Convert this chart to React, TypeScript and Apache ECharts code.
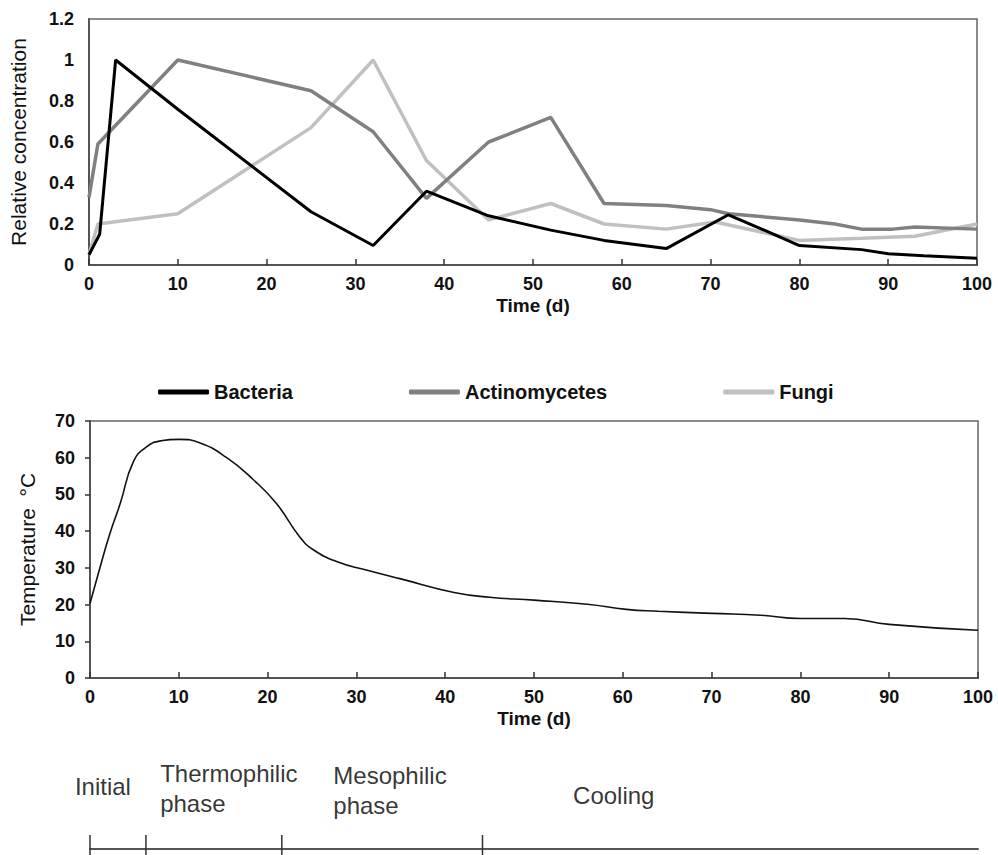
import React, { useEffect, useRef } from "react";
import * as echarts from "echarts";

// ---- Top chart: relative concentration ----
const bacteriaDays = [0, 1.2, 3, 10, 25, 32, 38, 45, 52, 58, 65, 72, 75.5, 80, 87, 90, 94, 100];
const bacteriaValues = [0.05, 0.15, 1.0, 0.76, 0.26, 0.095, 0.36, 0.24, 0.17, 0.12, 0.08, 0.245, 0.18, 0.095, 0.075, 0.055, 0.045, 0.033];

const actinoDays = [0, 1, 10, 25, 32, 38, 45, 52, 58, 65, 70, 72, 80, 84, 87, 90.5, 93, 100];
const actinoValues = [0.33, 0.59, 1.0, 0.85, 0.65, 0.325, 0.6, 0.72, 0.3, 0.29, 0.27, 0.25, 0.22, 0.2, 0.175, 0.175, 0.185, 0.175];

const fungiDays = [0, 1, 10, 25, 32, 38, 45, 52, 58, 65, 70.5, 80, 87, 93, 100];
const fungiValues = [0.05, 0.2, 0.25, 0.67, 1.0, 0.51, 0.22, 0.3, 0.2, 0.175, 0.21, 0.12, 0.13, 0.14, 0.2];

// ---- Bottom chart: temperature ----
const tempDays = [0, 1, 2.2, 3.4, 4.9, 6.4, 8, 10, 12.4, 15.4, 18.4, 21, 23.6, 25.1, 28, 31, 35, 41, 45, 50, 56, 60.4, 64, 70, 75.5, 80, 85, 90, 100];
const tempValues = [20.3, 29, 39, 47.5, 59, 63, 64.6, 65, 64, 60, 54, 47.5, 38.5, 35, 31.5, 29.5, 27, 23.3, 22, 21.2, 20.1, 18.7, 18.2, 17.6, 17.1, 16.2, 16.2, 14.6, 13];

// ---- Phase annotation ----
const phaseBoundaries = [0, 6.3, 21.6, 44.2];
const phaseNames = ["Initial", "Thermophilic\nphase", "Mesophilic\nphase", "Cooling"];
const phaseLabelDays = [-1.7, 7.9, 27.4, 54.4];
const phaseLabelLevels = [0.66, 0.64, 0.62, 0.57];

const FONT = "'Liberation Sans', Arial, sans-serif";

const zip = (xs: number[], ys: number[]) => xs.map((x, i) => [x, ys[i]]);

export default function App() {
  const ref = useRef<HTMLDivElement>(null);

  useEffect(() => {
    if (!ref.current) return;
    const chart = echarts.init(ref.current, null, { renderer: "svg" });

    const axisLineStyle = { color: "#555", width: 2 };
    const tickLabel = { color: "#111", fontWeight: "bold" as const, fontSize: 18, fontFamily: FONT };
    const nameStyle = { color: "#111", fontSize: 21, fontFamily: FONT };

    const option: any = {
      animation: false,
      backgroundColor: "#fff",
      textStyle: { fontFamily: FONT },
      legend: {
        left: 153,
        top: 377,
        itemWidth: 51,
        itemHeight: 5,
        itemGap: 116,
        icon: "roundRect",
        textStyle: { color: "#111", fontWeight: "bold", fontSize: 20, fontFamily: FONT },
        data: ["Bacteria", "Actinomycetes", "Fungi"],
        selectedMode: false,
      },
      grid: [
        { left: 88, top: 19, width: 889, height: 246, show: true, borderColor: "#666", borderWidth: 1.5 },
        { left: 90, top: 421, width: 888, height: 257, show: true, borderColor: "#666", borderWidth: 1.5 },
        { left: 90, top: 755, width: 888, height: 94, show: false },
      ],
      xAxis: [
        {
          gridIndex: 0, type: "value", min: 0, max: 100, interval: 10,
          name: "Time (d)", nameLocation: "middle", nameGap: 31,
          nameTextStyle: { color: "#111", fontWeight: "bold", fontSize: 19, fontFamily: FONT },
          axisLine: { lineStyle: axisLineStyle },
          axisTick: { inside: true, length: 6, lineStyle: { color: "#333", width: 1.5 } },
          axisLabel: { ...tickLabel, margin: 10 },
          splitLine: { show: false },
        },
        {
          gridIndex: 1, type: "value", min: 0, max: 100, interval: 10,
          name: "Time (d)", nameLocation: "middle", nameGap: 31,
          nameTextStyle: { color: "#111", fontWeight: "bold", fontSize: 19, fontFamily: FONT },
          axisLine: { lineStyle: axisLineStyle },
          axisTick: { inside: true, length: 6, lineStyle: { color: "#333", width: 1.5 } },
          axisLabel: { ...tickLabel, margin: 10 },
          splitLine: { show: false },
        },
        {
          gridIndex: 2, type: "value", min: 0, max: 100,
          axisLine: { show: true, lineStyle: { color: "#555", width: 2 } },
          axisTick: { show: false },
          axisLabel: { show: false },
          splitLine: { show: false },
        },
      ],
      yAxis: [
        {
          gridIndex: 0, type: "value", min: 0, max: 1.2, interval: 0.2,
          name: "Relative concentration", nameLocation: "middle", nameGap: 60, nameRotate: 90,
          nameTextStyle: nameStyle,
          axisLine: { show: true, lineStyle: axisLineStyle },
          axisTick: { show: false },
          axisLabel: { ...tickLabel, margin: 15 },
          splitLine: { show: false },
        },
        {
          gridIndex: 1, type: "value", min: 0, max: 70, interval: 10,
          name: "Temperature  \u00B0C", nameLocation: "middle", nameGap: 52, nameRotate: 90,
          nameTextStyle: nameStyle,
          axisLine: { show: true, lineStyle: axisLineStyle },
          axisTick: { show: true, inside: false, length: 5, lineStyle: { color: "#333", width: 1.5 } },
          axisLabel: { ...tickLabel, margin: 15 },
          splitLine: { show: false },
        },
        {
          gridIndex: 2, type: "value", min: 0, max: 1, show: false,
        },
      ],
      series: [
        {
          name: "Bacteria", type: "line", xAxisIndex: 0, yAxisIndex: 0,
          data: zip(bacteriaDays, bacteriaValues), showSymbol: false, symbol: "none",
          lineStyle: { color: "#000", width: 3 }, itemStyle: { color: "#000" }, z: 4,
        },
        {
          name: "Actinomycetes", type: "line", xAxisIndex: 0, yAxisIndex: 0,
          data: zip(actinoDays, actinoValues), showSymbol: false, symbol: "none",
          lineStyle: { color: "#808080", width: 3.5 }, itemStyle: { color: "#808080" }, z: 3,
        },
        {
          name: "Fungi", type: "line", xAxisIndex: 0, yAxisIndex: 0,
          data: zip(fungiDays, fungiValues), showSymbol: false, symbol: "none",
          lineStyle: { color: "#c0c0c0", width: 3.5 }, itemStyle: { color: "#c0c0c0" }, z: 2,
        },
        {
          name: "Temperature", type: "line", xAxisIndex: 1, yAxisIndex: 1,
          data: zip(tempDays, tempValues), showSymbol: false, symbol: "none",
          smooth: 0.5,
          lineStyle: { color: "#111", width: 1.6 },
        },
        {
          name: "phaseTicks", type: "custom", xAxisIndex: 2, yAxisIndex: 2,
          data: phaseBoundaries.map((d) => [d, 0]),
          silent: true,
          renderItem: (params: any, api: any) => {
            const p = api.coord([api.value(0), 0]);
            return {
              type: "line",
              shape: { x1: p[0], y1: p[1] - 14, x2: p[0], y2: p[1] + 10 },
              style: { stroke: "#333", lineWidth: 1.5 },
            };
          },
        },
        {
          name: "phaseLabels", type: "scatter", xAxisIndex: 2, yAxisIndex: 2,
          data: phaseLabelDays.map((d, i) => [d, phaseLabelLevels[i], phaseNames[i]]),
          symbolSize: 0, silent: true, clip: false,
          label: {
            show: true, position: "right", distance: 0,
            formatter: (p: any) => p.data[2],
            color: "#000", fontSize: 24, lineHeight: 30, fontFamily: FONT, align: "left",
          },
        },
      ],
    };

    chart.setOption(option);
    return () => chart.dispose();
  }, []);

  return (
    <div
      ref={ref}
      style={{ position: "fixed", left: 0, top: 0, width: 998, height: 855, background: "#fff" }}
    />
  );
}
